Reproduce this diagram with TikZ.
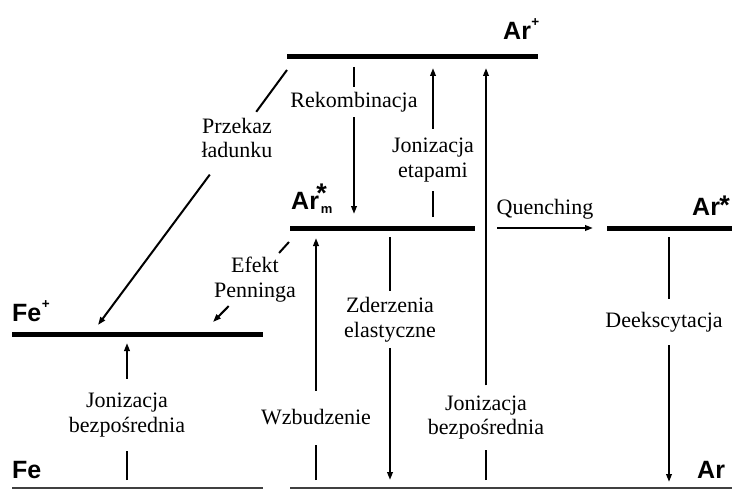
\documentclass[tikz,border=0pt]{standalone}
\usepackage{fontspec}
\setmainfont{Liberation Serif}
\newfontfamily\lbsans{Liberation Sans}
\usetikzlibrary{arrows.meta}

\begin{document}
\begin{tikzpicture}[x=1pt,y=-1pt,
 level/.style={line width=5pt},
 ground/.style={line width=1.5pt, draw=black!75},
 arr/.style={line width=2pt, -{Triangle[length=8pt,width=5.5pt]}},
 seg/.style={line width=2pt},
 lab/.style={font=\fontsize{22}{24.5}\selectfont, align=center, inner xsep=2pt},
 spec/.style={font=\lbsans\bfseries\fontsize{25}{25}\selectfont, inner sep=0pt, anchor=base west},
]
\useasboundingbox (0,0) rectangle (733,489);

% energy levels
\coordinate (arpL) at (287,57);  \coordinate (arpR) at (538,57);
\coordinate (armL) at (290,228); \coordinate (armR) at (475,228);
\coordinate (arsL) at (607,228); \coordinate (arsR) at (732,228);
\coordinate (fepL) at (12,334);  \coordinate (fepR) at (263,334);
\coordinate (feL) at (12,488);   \coordinate (feR) at (263,488);
\coordinate (arL) at (290,488);  \coordinate (arR) at (732,488);
\draw[level] (arpL) -- (arpR);
\draw[level] (armL) -- (armR);
\draw[level] (arsL) -- (arsR);
\draw[level] (fepL) -- (fepR);
\draw[ground] (feL) -- (feR);
\draw[ground] (arL) -- (arR);

% species labels
\node[spec] (tArp) at (503,40) {Ar\kern0.5pt\raisebox{13pt}{\fontsize{13.5}{13.5}\selectfont +}};
\node[spec] (tArm) at (291,210) {Ar\rlap{\kern-2.5pt\raisebox{8pt}{\fontsize{27}{27}\selectfont *}}\kern2pt\raisebox{-3pt}{\fontsize{13}{13}\selectfont m}};
\node[spec] (tArs) at (692,215) {Ar\kern-0.5pt\raisebox{1pt}{\fontsize{27}{27}\selectfont *}};
\node[spec] (tFep) at (12,321) {Fe\kern0.5pt\raisebox{13pt}{\fontsize{13.5}{13.5}\selectfont +}};
\node[spec] (tFe) at (12,478) {Fe};
\node[spec] (tAr) at (697,478) {Ar};

% Rekombinacja
\coordinate (r1) at (354,67); \coordinate (r2) at (354,214);
\node[lab, inner ysep=5pt] (rek) at (354,102) {Rekombinacja};
\draw[seg] (r1) -- (r1 |- rek.north);
\draw[arr] (r1 |- rek.south) -- (r2);

% Jonizacja etapami
\coordinate (j1) at (433,217); \coordinate (j2) at (433,68);
\node[lab, inner ysep=9pt] (jet) at (433,160) {Jonizacja\\etapami};
\draw[seg] (j1) -- (j1 |- jet.south);
\draw[arr] (j1 |- jet.north) -- (j2);

% Jonizacja bezposrednia (Ar -> Ar+)
\coordinate (b1) at (486,480); \coordinate (b2) at (486,68);
\node[lab, inner ysep=10pt] (jba) at (486,417.5) {Jonizacja\\bezpośrednia};
\draw[seg] (b1) -- (b1 |- jba.south);
\draw[arr] (b1 |- jba.north) -- (b2);

% Quenching
\coordinate (q1) at (497,228); \coordinate (q2) at (593,228);
\draw[arr] (q1) -- node[lab, above, inner ysep=8pt] (que) {Quenching} (q2);

% Deekscytacja
\coordinate (d1) at (669,237); \coordinate (d2) at (669,482);
\node[lab, inner ysep=13pt] (dee) at (664,322) {Deekscytacja};
\draw[seg] (d1) -- (d1 |- dee.north);
\draw[arr] (d1 |- dee.south) -- (d2);

% Wzbudzenie
\coordinate (w1) at (316,480); \coordinate (w2) at (316,238);
\node[lab, inner ysep=19pt] (wzb) at (316,417.5) {Wzbudzenie};
\draw[seg] (w1) -- (w1 |- wzb.south);
\draw[arr] (w1 |- wzb.north) -- (w2);

% Zderzenia elastyczne
\coordinate (z1) at (390,237); \coordinate (z2) at (390,480);
\node[lab, inner ysep=6pt] (zde) at (390,319.5) {Zderzenia\\elastyczne};
\draw[seg] (z1) -- (z1 |- zde.north);
\draw[arr] (z1 |- zde.south) -- (z2);

% Jonizacja bezposrednia (Fe -> Fe+)
\coordinate (f1) at (127,480); \coordinate (f2) at (127,343);
\node[lab, inner ysep=14pt] (jbf) at (127,415) {Jonizacja\\bezpośrednia};
\draw[seg] (f1) -- (f1 |- jbf.south);
\draw[arr] (f1 |- jbf.north) -- (f2);

% Przekaz ladunku
\coordinate (p1) at (287,70); \coordinate (p2) at (98,325);
\node[lab, inner ysep=6pt] (prz) at (237,138) {Przekaz\\ładunku};
\draw[seg] (p1) -- (prz);
\draw[arr, shorten <=13pt] (prz) -- (p2);

% Efekt Penninga
\coordinate (e1) at (289,242); \coordinate (e2) at (213,322);
\node[lab, inner ysep=4pt] (efp) at (255,279.5) {Efekt\\Penninga};
\draw[seg] (e1) -- (efp);
\draw[arr] (efp) -- (e2);
\end{tikzpicture}
\end{document}
